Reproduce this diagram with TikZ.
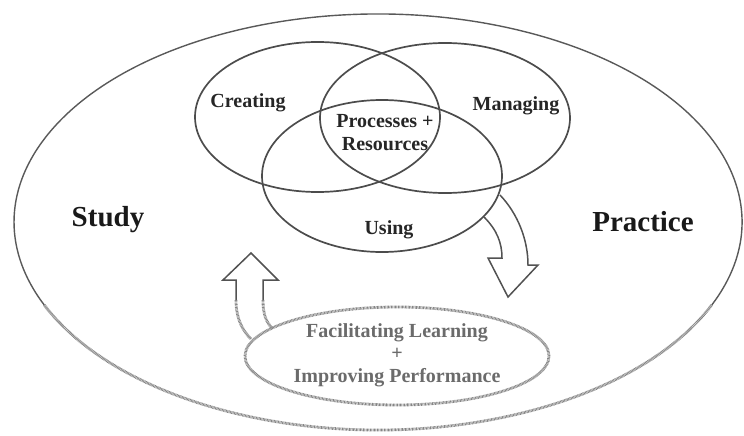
\documentclass[tikz,border=0pt]{standalone}
\usepackage{fontspec}
\setmainfont{Liberation Serif}
\usepackage{tikz}
\usetikzlibrary{backgrounds}
\usetikzlibrary{shapes,shapes.geometric,calc}
\pgfdeclarelayer{edgelayer}
\pgfdeclarelayer{nodelayer}
\pgfsetlayers{background,edgelayer,nodelayer,main}
\tikzstyle{none}=[inner sep=0mm]
\tikzstyle{ring}=[shape=ellipse,draw=black!70,line width=1.7pt,inner sep=0pt]
\tikzstyle{rim}=[draw=black!65,line width=1.4pt]
\tikzstyle{grainy}=[draw=black!48,line width=2.8pt,dash pattern=on 0.8pt off 0.6pt]
\tikzstyle{lbl}=[none,font=\bfseries\fontsize{20}{23}\selectfont,text=black!85]
\tikzstyle{big}=[none,font=\bfseries\fontsize{29}{34}\selectfont,text=black!90]
\tikzstyle{goaltxt}=[none,align=center,font=\bfseries\fontsize{20}{22.5}\selectfont,text=black!58]
\tikzstyle{blockarrow}=[draw=black!68,line width=1.5pt,line join=miter]

\begin{document}
\begin{tikzpicture}[x=1pt,y=-1pt]
	\useasboundingbox (0,0) rectangle (744,436);
	\begin{pgfonlayer}{nodelayer}
		\node [style=ring, minimum width=245pt, minimum height=150pt] (creating) at (317.5, 117) {};
		\node [style=ring, minimum width=250pt, minimum height=150pt] (managing) at (445, 118) {};
		\node [style=ring, minimum width=240pt, minimum height=152pt] (using) at (382, 176) {};
		\node [style=lbl] (creatingtxt) at (248, 103) {Creating};
		\node [style=lbl] (managingtxt) at (516, 106) {Managing};
		\node [style=lbl, align=center] (core) at (385, 133) {Processes +\\Resources};
		\node [style=lbl] (usingtxt) at (389, 230) {Using};
		\node [style=big] (study) at (108, 220) {Study};
		\node [style=big] (practice) at (643, 222) {Practice};
		\node [style=goaltxt] (goaltxt) at (397, 355) {Facilitating Learning\\+\\Improving Performance};
		\coordinate (field) at (378, 222);
		\coordinate (goal) at (397, 356);
	\end{pgfonlayer}
	\begin{pgfonlayer}{edgelayer}
		% outer field: clean on top, worn at the bottom
		\draw[style=rim] ([shift={(-23.5:364pt and 208pt)}]field) arc[start angle=-23.5, end angle=203.5, x radius=364pt, y radius=208pt];
		\draw[style=grainy] ([shift={(203.5:364pt and 208pt)}]field) arc[start angle=203.5, end angle=336.5, x radius=364pt, y radius=208pt];
		\draw[style=grainy] (goal) ellipse [x radius=152pt, y radius=49pt];
		% up arrow
		\draw[style=blockarrow] (236, 300) -- (236, 280) -- (223, 280) -- (251, 253) -- (278, 280) -- (263, 280) -- (263, 300);
		\draw[style=grainy] (236, 300) .. controls (236, 318) and (242, 330) .. (251, 339);
		\draw[style=grainy] (263, 300) .. controls (263, 314) and (266, 322) .. (272, 328);
		% down arrow
		\draw[style=blockarrow] (500, 195) .. controls (518, 214) and (528, 240) .. (528, 265) -- (538, 265) -- (508, 297) -- (488, 258) -- (502, 258) .. controls (502, 243) and (497, 230) .. (484, 217);
	\end{pgfonlayer}
\end{tikzpicture}
\end{document}
